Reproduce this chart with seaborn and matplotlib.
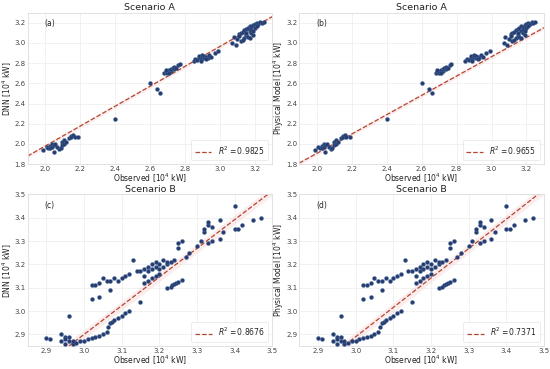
import numpy as np
import pandas as pd
import matplotlib
matplotlib.use("Agg")
import matplotlib.pyplot as plt
import seaborn as sns

# Scenario A: observed vs predicted [10^4 kW]
obs_a = [1.99, 2.01, 2.02, 2.03, 2.03, 2.04, 2.04, 2.05, 2.05, 2.06, 2.07, 2.08, 2.09, 2.10,
         2.10, 2.11, 2.11, 2.12, 2.14, 2.15, 2.15, 2.16, 2.17, 2.19,
         2.40, 2.60, 2.64, 2.66,
         2.68, 2.69, 2.70, 2.70, 2.71, 2.72, 2.72, 2.73, 2.74, 2.74, 2.75, 2.76, 2.77, 2.69, 2.71,
         2.85, 2.86, 2.87, 2.88, 2.88, 2.89, 2.90, 2.90, 2.91, 2.91, 2.92, 2.93, 2.94, 2.95, 2.97, 2.99,
         2.89, 2.92,
         3.07, 3.08, 3.09, 3.10, 3.11, 3.12, 3.12, 3.13, 3.14, 3.14, 3.15, 3.15, 3.16, 3.16, 3.17,
         3.17, 3.18, 3.18, 3.19, 3.19, 3.20, 3.20, 3.21, 3.22, 3.23, 3.24, 3.25, 3.11, 3.13, 3.18,
         3.15, 3.17, 3.19, 3.21]
dnn_a = [1.94, 1.97, 1.96, 1.98, 1.96, 1.97, 2.00, 1.99, 1.92, 2.00, 1.97, 1.95, 1.96, 2.02,
         1.99, 2.00, 2.04, 2.02, 2.06, 2.08, 2.07, 2.09, 2.07, 2.07,
         2.25, 2.60, 2.54, 2.50,
         2.70, 2.71, 2.72, 2.70, 2.73, 2.72, 2.74, 2.75, 2.74, 2.76, 2.75, 2.78, 2.79, 2.73, 2.70,
         2.82, 2.84, 2.83, 2.85, 2.87, 2.84, 2.86, 2.88, 2.85, 2.87, 2.86, 2.85, 2.88, 2.86, 2.90, 2.92,
         2.82, 2.84,
         3.00, 3.06, 2.98, 3.04, 3.09, 3.10, 3.02, 3.11, 3.05, 3.13, 3.08, 3.14, 3.15, 3.06, 3.12,
         3.17, 3.10, 3.16, 3.18, 3.08, 3.19, 3.15, 3.20, 3.19, 3.21, 3.20, 3.21, 3.07, 3.03, 3.13,
         3.10, 3.05, 3.12, 3.17]
phys_a = dnn_a

# Scenario B
obs_b = [2.90, 2.91, 2.94, 2.94, 2.95, 2.95, 2.95, 2.96, 2.96, 2.96, 2.97, 2.97, 2.98, 2.99,
         3.00, 3.01, 3.02, 3.03, 3.04, 3.05, 3.06, 3.065, 3.07, 3.075, 3.08, 3.09, 3.10, 3.11, 3.12,
         3.02, 3.02, 3.03, 3.04, 3.04, 3.05, 3.06, 3.07, 3.07, 3.08, 3.09, 3.10, 3.11, 3.12, 3.13,
         3.14, 3.15, 3.15, 3.16, 3.16, 3.17, 3.17, 3.18, 3.18, 3.19, 3.19, 3.20, 3.20, 3.21, 3.21,
         3.22, 3.22, 3.23, 3.24, 3.16, 3.17, 3.18, 3.19, 3.20,
         3.22, 3.23, 3.235, 3.24, 3.245, 3.25, 3.26,
         3.25, 3.25, 3.26, 3.27, 3.28, 3.30, 3.31, 3.32, 3.32, 3.33, 3.33, 3.33, 3.34, 3.34, 3.36,
         3.36, 3.37, 3.40, 3.40, 3.41, 3.42, 3.45, 3.47]
pred_b = [2.885, 2.88, 2.90, 2.87, 2.89, 2.86, 2.88, 2.87, 2.98, 2.89, 2.86, 2.87, 2.865, 2.87,
          2.87, 2.88, 2.885, 2.89, 2.895, 2.90, 2.91, 2.93, 2.95, 2.955, 2.96, 2.97, 2.98, 2.99, 3.00,
          3.05, 3.11, 3.11, 3.06, 3.12, 3.14, 3.13, 3.09, 3.13, 3.14, 3.13, 3.14, 3.15, 3.16, 3.22,
          3.17, 3.04, 3.17, 3.15, 3.18, 3.19, 3.17, 3.20, 3.18, 3.19, 3.21, 3.18, 3.20, 3.22, 3.19,
          3.20, 3.21, 3.21, 3.22, 3.12, 3.13, 3.14, 3.15, 3.16,
          3.10, 3.105, 3.11, 3.115, 3.12, 3.125, 3.135,
          3.29, 3.27, 3.30, 3.23, 3.25, 3.28, 3.30, 3.34, 3.35, 3.37, 3.38, 3.29, 3.30, 3.36, 3.39,
          3.31, 3.34, 3.45, 3.35, 3.35, 3.37, 3.39, 3.40]

# fitted lines (slope, intercept) and R^2 for each panel
fits = [(0.986, 0.006), (0.957, -0.008), (1.23, -0.79), (1.26, -0.89)]
r2_values = [0.9825, 0.9655, 0.8676, 0.7371]
panel_tags = ["(a)", "(b)", "(c)", "(d)"]
titles = ["Scenario A", "Scenario A", "Scenario B", "Scenario B"]
ylabels = ["DNN [10$^4$ kW]", "Physical Model [10$^4$ kW]", "DNN [10$^4$ kW]", "Physical Model [10$^4$ kW]"]

sns.set_theme(style="whitegrid")
plt.rcParams['font.family'] = ['DejaVu Sans']

fig, axes = plt.subplots(2, 2, figsize=(5.5, 3.69), dpi=100)
fig.subplots_adjust(left=0.05, right=0.989, top=0.966, bottom=0.062, wspace=0.11, hspace=0.2)

panels = [(obs_a, dnn_a), (obs_a, phys_a), (obs_b, pred_b), (obs_b, pred_b)]
limits = [((1.9, 3.3), (1.8, 3.3)), ((1.9, 3.3), (1.8, 3.3)),
          ((2.85, 3.5), (2.85, 3.5)), ((2.85, 3.5), (2.85, 3.5))]

for i, ax in enumerate(axes.flat):
    x, y = panels[i]
    df = pd.DataFrame({"obs": x, "pred": y})
    (xlo, xhi), (ylo, yhi) = limits[i]
    slope, icpt = fits[i]
    xs = np.linspace(xlo, xhi, 50)
    line = pd.DataFrame({"obs": xs, "pred": slope * xs + icpt})
    ax.fill_between(line["obs"], line["pred"] - 0.02, line["pred"] + 0.02,
                    color="#f4c6c6", alpha=0.3, lw=0, zorder=1)
    sns.lineplot(data=line, x="obs", y="pred", ax=ax, color="#b5452f", lw=0.9,
                 linestyle="--", label=f"$R^2 = {r2_values[i]}$", zorder=2)
    sns.scatterplot(data=df, x="obs", y="pred", ax=ax, s=8, color="#2b3a6e",
                    edgecolor="#3a6a9c", linewidth=0.3, zorder=3, legend=False)
    ax.set_xlim(xlo, xhi)
    ax.set_ylim(ylo, yhi)
    if i < 2:
        ax.set_xticks(np.arange(2.0, 3.25, 0.2))
        ax.set_yticks(np.arange(1.8, 3.25, 0.2))
    else:
        ax.set_xticks(np.arange(2.9, 3.55, 0.1))
        ax.set_yticks(np.arange(2.9, 3.55, 0.1))
    ax.xaxis.set_major_formatter(matplotlib.ticker.FormatStrFormatter("%.1f"))
    ax.yaxis.set_major_formatter(matplotlib.ticker.FormatStrFormatter("%.1f"))
    ax.tick_params(labelsize=5, pad=1.2, length=0, labelcolor="#444444")
    ax.set_xlabel("Observed [10$^4$ kW]", fontsize=5.5, labelpad=0, color="#222222")
    ax.set_ylabel(ylabels[i], fontsize=5.5, labelpad=0.5, color="#222222")
    ax.set_title(titles[i], fontsize=6.8, pad=1.5, color="#222222")
    ax.text(0.07, 0.93, panel_tags[i], transform=ax.transAxes, fontsize=5.5, va="center")
    ax.grid(color="#ebebeb", lw=0.5)
    for sp in ax.spines.values():
        sp.set_color("#dddddd")
        sp.set_linewidth(0.6)
    leg = ax.legend(loc="lower right", fontsize=5.5, frameon=True, handlelength=2.2,
                    borderpad=0.5, handletextpad=0.8)
    leg.set_zorder(10)
    leg.get_frame().set_edgecolor("#dddddd")
    leg.get_frame().set_linewidth(0.5)

fig.savefig("out.png", dpi=100)
